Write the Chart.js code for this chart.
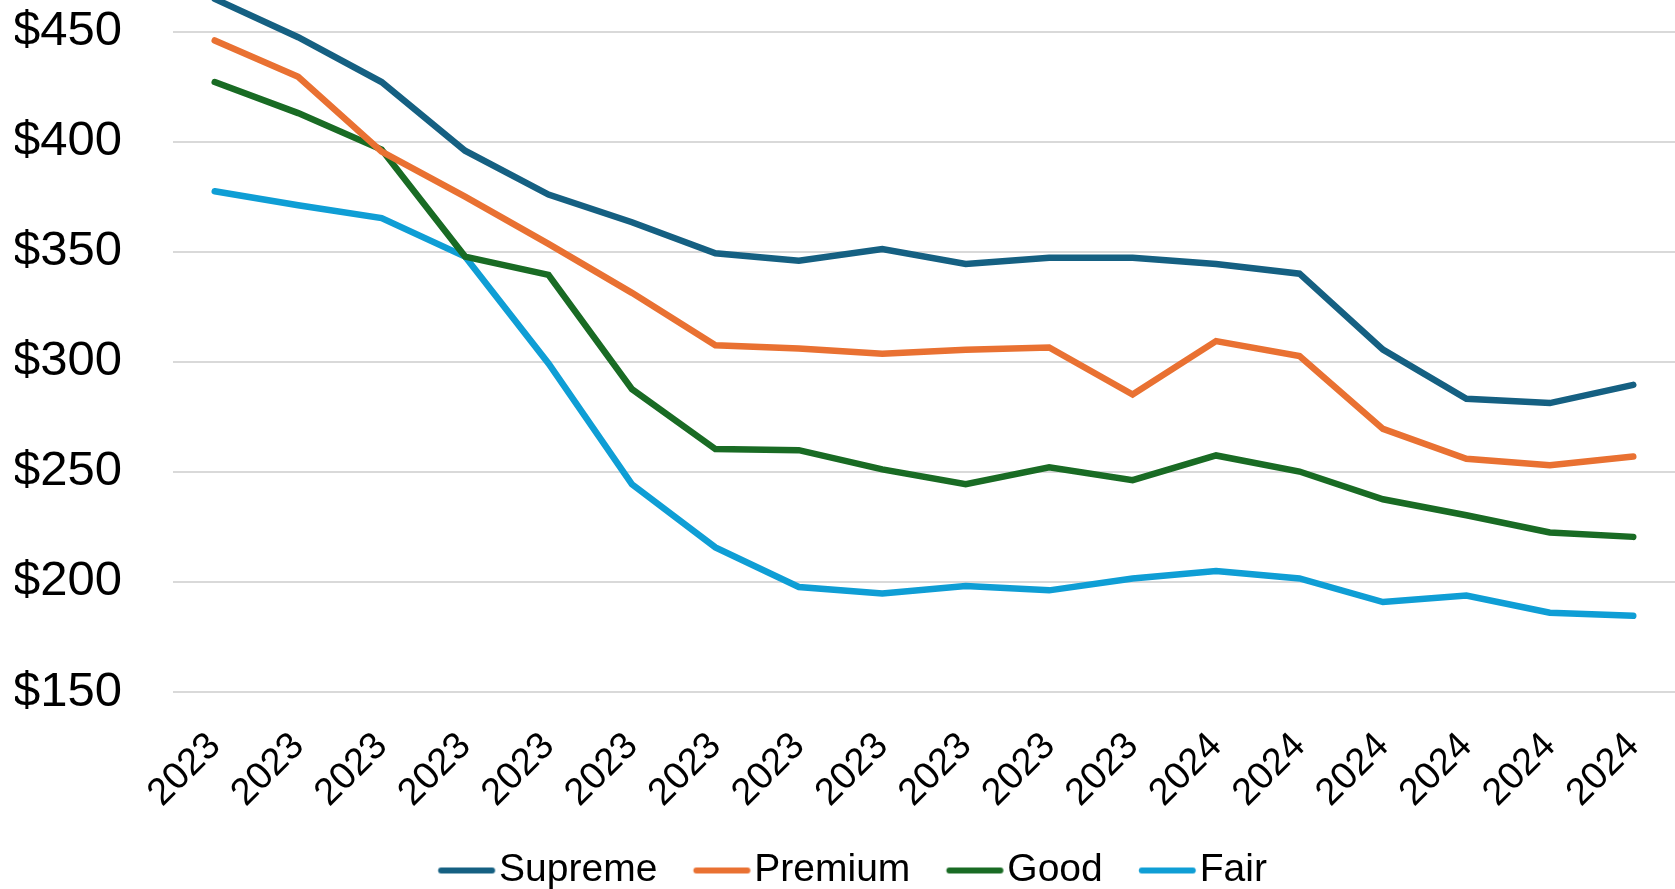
<!DOCTYPE html>
<html>
<head>
<meta charset="utf-8">
<script src="https://cdn.jsdelivr.net/npm/chart.js@4/dist/chart.umd.min.js"></script>
<style>
  html, body { margin: 0; padding: 0; background: #ffffff; }
  #wrap { width: 1675px; height: 889px; }
</style>
</head>
<body>
<div id="wrap"><canvas id="c" width="1675" height="889"></canvas></div>
<script>
const categories = ["2023","2023","2023","2023","2023","2023","2023","2023","2023","2023","2023","2023","2024","2024","2024","2024","2024","2024"];
const supreme = [465, 447.6, 427.2, 396, 376.1, 363.5, 349.4, 346, 351.3, 344.5, 347.4, 347.4, 344.5, 340.1, 305.6, 283.3, 281.3, 289.6];
const premium = [446.1, 429.6, 395.6, 375.1, 353.7, 331.4, 307.6, 306.1, 303.7, 305.6, 306.6, 285.2, 309.5, 302.7, 269.6, 256, 253.1, 257];
const good    = [427.2, 413.1, 396.5, 347.9, 339.6, 287.6, 260.4, 259.9, 251.2, 244.4, 252.1, 246.3, 257.5, 250.2, 237.6, 230.3, 222.5, 220.5];
const fair    = [377.6, 371.2, 365.4, 347.9, 299.3, 244.4, 215.7, 197.7, 194.8, 198.2, 196.2, 201.6, 205, 201.6, 190.9, 193.8, 186, 184.6];
const seriesNames = ["Supreme", "Premium", "Good", "Fair"];
const seriesColors = ["#156082", "#E97132", "#196B24", "#0F9ED5"];
const yTickValues = [150, 200, 250, 300, 350, 400, 450];
const yMin = 150, yMax = 464.5;

const FONT = "'Liberation Sans', Arial, sans-serif";
const seriesData = [supreme, premium, good, fair];

// legend sample: a short line image (line sits on the right part of the legend box)
function legendLine(color) {
  const c = document.createElement('canvas');
  c.width = 90; c.height = 12;
  const g = c.getContext('2d');
  g.strokeStyle = color;
  g.lineWidth = 6;
  g.lineCap = 'round';
  g.beginPath();
  g.moveTo(34.75, 6);
  g.lineTo(85.75, 6);
  g.stroke();
  return c;
}

const datasets = seriesNames.map((name, i) => ({
  label: name,
  data: seriesData[i],
  borderColor: seriesColors[i],
  backgroundColor: seriesColors[i],
  borderWidth: 6.5,
  borderCapStyle: 'round',
  borderJoinStyle: 'miter',
  pointRadius: 0,
  pointHoverRadius: 0,
  pointStyle: legendLine(seriesColors[i]),
  tension: 0,
  fill: false
}));

new Chart(document.getElementById('c'), {
  type: 'line',
  data: { labels: categories, datasets },
  options: {
    responsive: false,
    animation: false,
    devicePixelRatio: 1,
    layout: { padding: { left: 15, right: 0, top: 0, bottom: -11 } },
    plugins: {
      tooltip: { enabled: false },
      legend: {
        position: 'bottom',
        labels: {
          usePointStyle: true,
          pointStyleWidth: 56.5,
          boxHeight: 39,
          padding: 21,
          color: '#000000',
          font: { family: FONT, size: 39 }
        }
      }
    },
    scales: {
      x: {
        offset: true,
        grid: { display: false, drawTicks: false },
        border: { display: false },
        ticks: {
          color: '#000000',
          font: { family: FONT, size: 38 },
          minRotation: 45,
          maxRotation: 45,
          autoSkip: false,
          padding: 32
        },
        afterFit: (s) => { s.paddingLeft = 0; s.paddingRight = 0; s.height = 138; }
      },
      y: {
        min: yMin,
        max: yMax,
        grid: { color: '#D9D9D9', lineWidth: 2, drawTicks: false },
        border: { display: false },
        ticks: {
          color: '#000000',
          font: { family: FONT, size: 49 },
          padding: 51,
          callback: (v) => '$' + v
        },
        afterBuildTicks: (s) => { s.ticks = yTickValues.map(v => ({ value: v })); },
        afterFit: (s) => { s.paddingTop = 0; s.paddingBottom = 0; s.width = 158; }
      }
    }
  }
});
</script>
</body>
</html>
